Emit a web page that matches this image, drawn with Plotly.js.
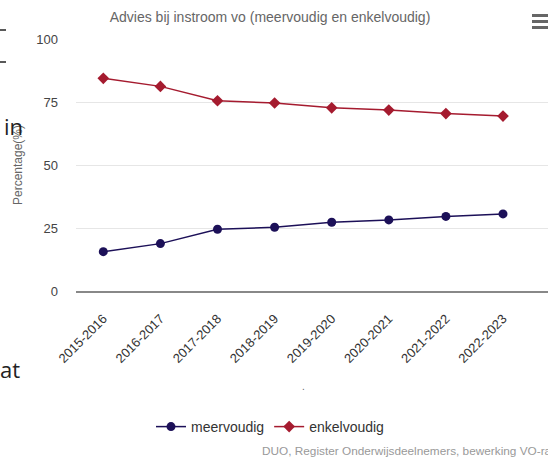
<!DOCTYPE html>
<html>
<head>
<meta charset="utf-8">
<script src="https://cdn.plot.ly/plotly-3.0.1.min.js"></script>
<style>
  html, body { margin: 0; padding: 0; background: #fff; overflow: hidden; }
  #wrap { width: 548px; height: 457px; overflow: hidden; }
  #chart { width: 580px; height: 457px; }
</style>
</head>
<body>
<div id="wrap"><div id="chart"></div></div>
<script>
const categories = ['2015-2016', '2016-2017', '2017-2018', '2018-2019', '2019-2020', '2020-2021', '2021-2022', '2022-2023'];
const meervoudig = [15.6, 18.8, 24.5, 25.3, 27.3, 28.2, 29.6, 30.6];
const enkelvoudig = [84.4, 81.2, 75.5, 74.6, 72.7, 71.8, 70.4, 69.4];
const yTicks = [0, 25, 50, 75, 100];

const FONT = '"Liberation Sans", Arial, Helvetica, sans-serif';
const NAVY = '#1c1058';
const RED = '#a51b2f';

// geometry (layout is slightly wider than the window so the plot runs off the right edge as in the reference)
const FULLW = 580, FULLH = 457, L = 76, T = 39, B = 291;
const PW = FULLW - L, PH = B - T;
const px = X => (X - L) / PW;
const py = Y => (B - Y) / PH;
const catStep = 57.1, firstPt = 103.3;
const xr0 = (L - firstPt) / catStep;
const xr1 = xr0 + PW / catStep;

const traces = [
  {
    x: categories, y: meervoudig, name: 'meervoudig', type: 'scatter', mode: 'lines+markers',
    line: { color: NAVY, width: 1.5 },
    marker: { color: NAVY, size: 9, symbol: 'circle' }
  },
  {
    x: categories, y: enkelvoudig, name: 'enkelvoudig', type: 'scatter', mode: 'lines+markers',
    line: { color: RED, width: 1.5 },
    marker: { color: RED, size: 9, symbol: 'diamond' }
  }
];

const layout = {
  width: FULLW, height: FULLH,
  margin: { l: L, r: 0, t: T, b: FULLH - B, autoexpand: false },
  paper_bgcolor: '#fff', plot_bgcolor: '#fff',
  font: { family: FONT, color: '#333' },
  title: {
    text: 'Advies bij instroom vo (meervoudig en enkelvoudig)',
    font: { family: FONT, size: 14, color: '#666' },
    xref: 'container', x: 270 / FULLW, xanchor: 'center',
    yref: 'container', y: 1 - 17 / FULLH, yanchor: 'middle'
  },
  xaxis: {
    type: 'category', range: [xr0, xr1], autorange: false,
    showline: true, linecolor: '#888', linewidth: 2,
    showgrid: false, zeroline: false, ticks: '',
    tickangle: -45, ticklabelstandoff: 13,
    tickfont: { family: FONT, size: 13, color: '#333' }
  },
  yaxis: {
    range: [0, 100], autorange: false, tickvals: yTicks,
    showgrid: true, gridcolor: '#e6e6e6', gridwidth: 1,
    zeroline: false, showline: false, ticks: '',
    ticklabelstandoff: 17,
    tickfont: { family: FONT, size: 13, color: '#444' },
    title: { text: 'Percentage(%)', font: { family: FONT, size: 12, color: '#666' }, standoff: 11 }
  },
  showlegend: true,
  legend: {
    orientation: 'h', xref: 'container', yref: 'container',
    x: 270 / FULLW, xanchor: 'center', y: 1 - 427 / FULLH, yanchor: 'middle',
    font: { family: FONT, size: 14, color: '#333' },
    itemwidth: 30, tracegroupgap: 0
  },
  annotations: [
    { text: 'DUO, Register Onderwijsdeelnemers, bewerking VO-raad', xref: 'paper', yref: 'paper',
      x: px(260), y: py(451), xanchor: 'left', yanchor: 'middle', showarrow: false,
      font: { family: FONT, size: 11.8, color: '#999' } },
    { text: '.', xref: 'paper', yref: 'paper', x: px(303), y: py(386),
      xanchor: 'center', yanchor: 'middle', showarrow: false, font: { family: FONT, size: 10, color: '#666' } },
    { text: 'in', xref: 'paper', yref: 'paper', x: px(2), y: py(126),
      xanchor: 'left', yanchor: 'middle', showarrow: false, font: { family: '"Open Sans", sans-serif', size: 22, color: '#222' } },
    { text: 'at', xref: 'paper', yref: 'paper', x: px(-2), y: py(369),
      xanchor: 'left', yanchor: 'middle', showarrow: false, font: { family: '"Open Sans", sans-serif', size: 22, color: '#222' } }
  ],
  shapes: [
    { type: 'line', xref: 'paper', yref: 'paper', x0: px(0), x1: px(6),
      y0: py(30), y1: py(30), line: { color: '#222', width: 1.5 } },
    { type: 'line', xref: 'paper', yref: 'paper', x0: px(0), x1: px(6),
      y0: py(62), y1: py(62), line: { color: '#222', width: 1.5 } },
    { type: 'rect', xref: 'paper', yref: 'paper', x0: px(532), x1: px(548),
      y0: py(17), y1: py(14), fillcolor: '#666', line: { width: 0 } },
    { type: 'rect', xref: 'paper', yref: 'paper', x0: px(532), x1: px(548),
      y0: py(23), y1: py(20), fillcolor: '#666', line: { width: 0 } },
    { type: 'rect', xref: 'paper', yref: 'paper', x0: px(532), x1: px(548),
      y0: py(29), y1: py(26), fillcolor: '#666', line: { width: 0 } }
  ]
};

Plotly.newPlot('chart', traces, layout, { displayModeBar: false, staticPlot: true });
</script>
</body>
</html>
